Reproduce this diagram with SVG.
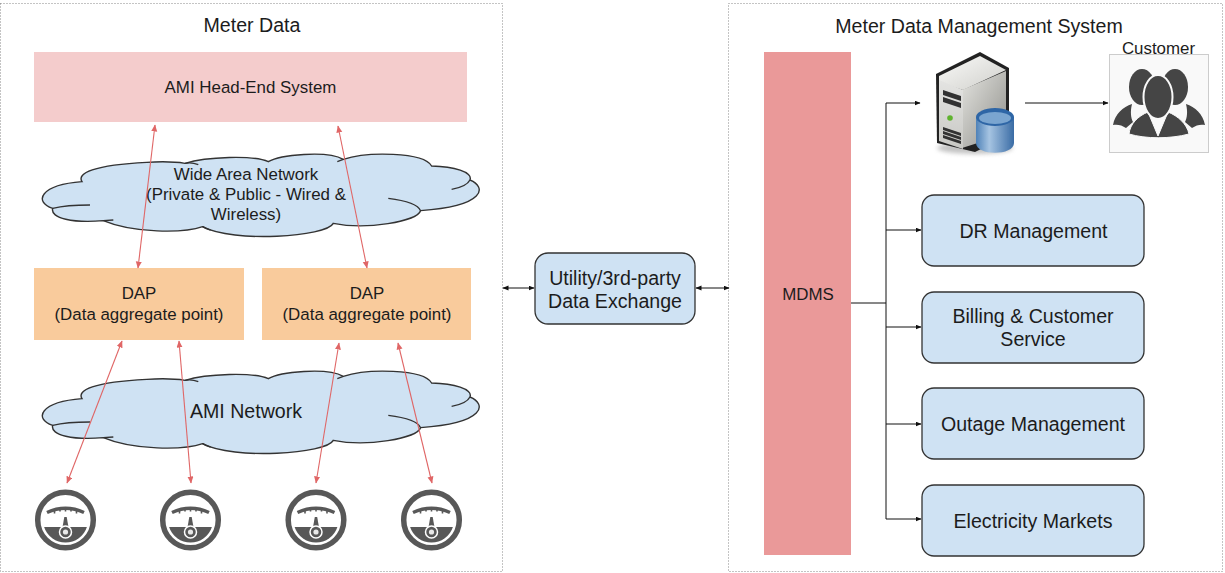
<svg xmlns="http://www.w3.org/2000/svg" width="1225" height="573" viewBox="0 0 1225 573">
<style>
text{font-family:"Liberation Sans",Arial,sans-serif;fill:#1c1c1c;text-anchor:middle}
.frame{fill:#fff;stroke:#888;stroke-width:1;stroke-dasharray:1 2}
.round{fill:#cfe2f3;stroke:#333;stroke-width:1.3}
.cloud{fill:#cfe2f3;stroke:#333;stroke-width:4.2}
.inner{fill:none;stroke:#333;stroke-width:4.2}
.red{stroke:#e06666;stroke-width:1.1;fill:none;marker-start:url(#ra);marker-end:url(#ra)}
.blk{stroke:#111;stroke-width:1;fill:none;marker-end:url(#ba)}
.bi{stroke:#111;stroke-width:1;fill:none;marker-start:url(#ba);marker-end:url(#ba)}
.t17{font-size:16.9px}.t20{font-size:19.6px}
.soft{filter:url(#soft)}
</style>
<defs>
<filter id="soft" x="-10%" y="-10%" width="120%" height="120%"><feGaussianBlur stdDeviation="0.45"/></filter>
<filter id="shadow" x="-30%" y="-30%" width="160%" height="160%"><feGaussianBlur stdDeviation="2"/></filter>
<marker id="ra" markerWidth="8" markerHeight="8" refX="6.5" refY="3" orient="auto-start-reverse" markerUnits="userSpaceOnUse"><path d="M0 0L7 3L0 6Z" fill="#e06666"/></marker>
<marker id="ba" markerWidth="8" markerHeight="8" refX="5.5" refY="2.5" orient="auto-start-reverse" markerUnits="userSpaceOnUse"><path d="M0 0L6 2.5L0 5Z" fill="#111"/></marker>
<linearGradient id="sv" x1="0" y1="0" x2="1" y2="1"><stop offset="0" stop-color="#e4e4e0"/><stop offset="1" stop-color="#8f8f8a"/></linearGradient>
<linearGradient id="st" x1="0" y1="0" x2="1" y2="1"><stop offset="0" stop-color="#fafaf8"/><stop offset="1" stop-color="#cfcfcb"/></linearGradient>
<linearGradient id="sf" x1="0" y1="0" x2="0" y2="1"><stop offset="0" stop-color="#e4e4e2"/><stop offset="1" stop-color="#c8c8c4"/></linearGradient>
<linearGradient id="db" x1="0" y1="0" x2="1" y2="0"><stop offset="0" stop-color="#4f82b8"/><stop offset=".35" stop-color="#a6c4e2"/><stop offset="1" stop-color="#3a6ca5"/></linearGradient>
<g id="cloudshape">
<path class="cloud" d="M246 155C230 130 280 105 440 97C490 94 530 96 555 100C620 80 760 75 805 95C840 75 980 60 1030 88C1100 65 1270 65 1295 108C1360 110 1420 125 1410 150C1460 170 1460 228 1262 242C1250 275 1100 300 1000 280C980 320 700 340 608 290C550 310 400 310 310 272C220 280 150 265 158 235C100 215 120 165 246 155Z"/>
<path class="inner" d="M555 100C570 97 585 100 595 104M1030 88L1012 95M1410 150Q1400 170 1355 178M1262 242C1255 225 1220 212 1165 205M310 272L340 270M158 235Q200 225 270 225M608 290Q618 297 632 300"/>
</g>
<g id="meter">
<circle r="27.800" fill="#fff" stroke="#595959" stroke-width="5.500"/>
<path d="M-21.400 7H21.400A22.500 22.500 0 0 1 -21.400 7Z" fill="#595959"/>
<path d="M-18.500 -7.500Q0 -16 18.500 -7.500" fill="none" stroke="#595959" stroke-width="3.500"/>
<path d="M-11 -10V-6.500M-5.500 -12V-8.500M0 -12V-8.500M5.500 -12V-8.500M11 -10V-6.500" stroke="#595959" stroke-width="1.600"/>
<path d="M-1.200 -3L1.200 -3L3.500 10H-3.500Z" fill="#595959"/>
<circle cy="12" r="6" fill="#595959" stroke="#fff" stroke-width="1.500"/>
<circle cy="12" r="2.600" fill="#e8e8e8"/>
</g>
</defs>
<rect id="frame-left" class="frame" x="0.500" y="3.500" width="502" height="568"/>
<rect id="frame-right" class="frame" x="728.500" y="3.500" width="494" height="568"/>
<text class="t20" x="252" y="32">Meter Data</text>
<text class="t20" x="979" y="33">Meter Data Management System</text>
<g id="head-end"><rect x="34" y="52" width="433" height="70" fill="#f4cccc"/><text class="t17" x="250.500" y="93">AMI Head-End System</text></g>
<g id="wan"><use href="#cloudshape" transform="translate(0 130) scale(.3333)"/><text class="t17" x="246" y="180">Wide Area Network</text><text class="t17" x="246" y="200">(Private &amp; Public - Wired &amp;</text><text class="t17" x="246" y="220">Wireless)</text></g>
<g id="dap1"><rect x="34" y="268" width="210" height="72" fill="#f9cb9c"/><text class="t17" x="139" y="299">DAP</text><text class="t17" x="139" y="320">(Data aggregate point)</text></g>
<g id="dap2"><rect x="262" y="268" width="209" height="72" fill="#f9cb9c"/><text class="t17" x="367" y="299">DAP</text><text class="t17" x="367" y="320">(Data aggregate point)</text></g>
<g id="ami"><use href="#cloudshape" transform="translate(0 347) scale(.3333)"/><text class="t20" x="246" y="418">AMI Network</text></g>
<g id="meter1" class="soft"><use href="#meter" x="65.500" y="520"/></g>
<g id="meter2" class="soft"><use href="#meter" x="190.500" y="520"/></g>
<g id="meter3" class="soft"><use href="#meter" x="316" y="520"/></g>
<g id="meter4" class="soft"><use href="#meter" x="431.500" y="520"/></g>
<g id="exchange"><rect class="round" x="535" y="253" width="160" height="71" rx="13"/><text class="t20" x="615" y="285">Utility/3rd-party</text><text class="t20" x="615" y="308">Data Exchange</text></g>
<g id="mdms"><rect x="764" y="52" width="87" height="503" fill="#ea9999"/><text class="t17" x="808" y="300">MDMS</text></g>
<g id="server">
<ellipse cx="975" cy="148" rx="38" ry="6" fill="#888" opacity=".5" filter="url(#shadow)"/>
<g class="soft">
<path d="M936 74L980 52L1009 68V135L975 152L937 143Z" fill="#222"/>
<path d="M962 90L1006 71V134L962 148Z" fill="url(#sv)"/>
<path d="M939 76L980 56L1006 70L963 90L939 82Z" fill="url(#st)"/>
<path d="M939 80L963 90V149L939 141Z" fill="url(#sf)"/>
<path d="M943 90L961 96V101L943 95ZM943 97L961 103V108L943 102ZM943 127L961 133V136L943 130ZM943 131L961 137V140L943 134ZM943 135L961 141V144L943 138Z" fill="#333"/>
<circle cx="950" cy="118" r="2.800" fill="#5fb32e"/>
<path d="M976 117V143C976 156 1014 156 1014 143V117Z" fill="url(#db)"/>
<ellipse cx="995" cy="117" rx="19" ry="9" fill="#2f66a6"/>
<ellipse cx="995" cy="118" rx="16" ry="6" fill="#7aa5d0"/>
</g>
</g>
<g id="customer">
<rect x="1109.500" y="54.500" width="99" height="98" fill="#f9f9f9" stroke="#ccc"/>
<g class="soft">
<ellipse cx="1142" cy="87" rx="13" ry="18" fill="#444"/>
<ellipse cx="1175" cy="87" rx="13" ry="18" fill="#444"/>
<path d="M1113 125C1115 114 1123 107 1132 104C1130 112 1131 118 1133 122L1126 128C1122 125 1117 124 1113 125Z" fill="#444"/>
<path d="M1205 125C1203 114 1195 107 1186 104C1188 112 1187 118 1185 122L1192 128C1196 125 1201 124 1205 125Z" fill="#444"/>
<path d="M1129 134C1130 124 1138 116 1148 112L1158 136L1168 112C1178 116 1187 124 1189 134C1170 139 1146 139 1129 134Z" fill="#444" stroke="#f9f9f9" stroke-width="1"/>
<ellipse cx="1158" cy="97" rx="14.500" ry="22" fill="#444" stroke="#f9f9f9" stroke-width="2"/>
</g>
<text class="t17" x="1158.500" y="54">Customer</text>
</g>
<g id="dr"><rect class="round" x="922" y="195" width="222" height="71" rx="12"/><text class="t20" x="1033.500" y="238">DR Management</text></g>
<g id="billing"><rect class="round" x="922" y="292" width="222" height="71" rx="12"/><text class="t20" x="1033" y="323">Billing &amp; Customer</text><text class="t20" x="1033" y="346">Service</text></g>
<g id="outage"><rect class="round" x="922" y="388" width="222" height="71" rx="12"/><text class="t20" x="1033" y="431">Outage Management</text></g>
<g id="markets"><rect class="round" x="922" y="485" width="222" height="71" rx="12"/><text class="t20" x="1033" y="528">Electricity Markets</text></g>
<g id="connectors">
<path class="red" d="M155 125L138 268"/>
<path class="red" d="M338 126L367 268"/>
<path class="red" d="M122 341L67 483"/>
<path class="red" d="M179 341L191 483"/>
<path class="red" d="M339 343L316 483"/>
<path class="red" d="M398 343L432 483"/>
<path class="bi" d="M503 288H534"/>
<path class="bi" d="M696 288H729"/>
<path d="M851 303H886" stroke="#111" fill="none"/>
<path d="M886 103V519" stroke="#111" fill="none"/>
<path class="blk" d="M886 103H920"/>
<path class="blk" d="M886 230H921"/>
<path class="blk" d="M886 327H921"/>
<path class="blk" d="M886 424H921"/>
<path class="blk" d="M886 519H921"/>
<path class="blk" d="M1025 103H1108"/>
</g>
</svg>
